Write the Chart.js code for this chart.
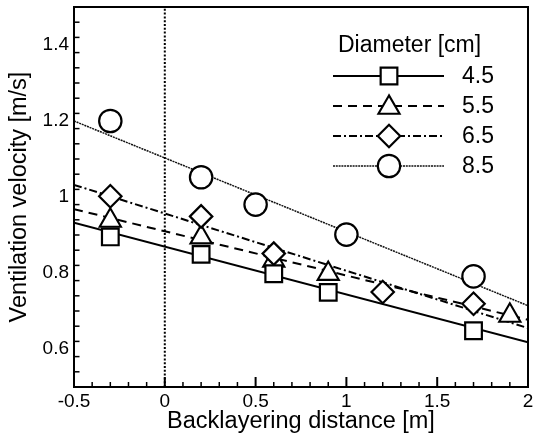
<!DOCTYPE html>
<html><head><meta charset="utf-8">
<script src="https://cdn.jsdelivr.net/npm/chart.js@4/dist/chart.umd.min.js"></script>
<style>html,body{margin:0;padding:0;background:#fff;overflow:hidden}#wrap{width:533px;height:441px}</style>
</head><body><div id="wrap"><canvas id="c" width="533" height="441"></canvas></div>
<script>
// ---- data ----
const diameters = ['4.5', '5.5', '6.5', '8.5'];
const x45 = [-0.3, 0.2, 0.6, 0.9, 1.7];
const v45 = [0.895, 0.849, 0.798, 0.749, 0.648];
const x55 = [-0.3, 0.2, 0.6, 0.9, 1.9];
const v55 = [0.945, 0.901, 0.840, 0.805, 0.695];
const x65 = [-0.3, 0.2, 0.6, 1.2, 1.7];
const v65 = [1.002, 0.949, 0.851, 0.750, 0.719];
const x85 = [-0.3, 0.2, 0.5, 1.0, 1.7];
const v85 = [1.200, 1.052, 0.980, 0.901, 0.791];
const fitX = [-0.5, 2];
const fit45 = [0.932, 0.618];
const fit55 = [0.968, 0.677];
const fit65 = [1.032, 0.655];
const fit85 = [1.200, 0.714];
const refLineX = [0, 0];
const refLineY = [0.5, 1.5];
const xTicks = [-0.5, 0, 0.5, 1, 1.5, 2];
const yTicks = [0.6, 0.8, 1, 1.2, 1.4];
const xTitle = 'Backlayering distance [m]';
const yTitle = 'Ventilation velocity [m/s]';
const legendTitle = 'Diameter [cm]';

const FONT = '"Liberation Sans", Arial, Helvetica, sans-serif';
const pts = (xs, ys) => xs.map((x, i) => ({x: x, y: ys[i]}));

// triangle centred on its bounding box (Chart.js' own triangle is centred on its circumcentre)
function drawTri(ctx, x, y) {
  ctx.save();
  ctx.fillStyle = '#fff'; ctx.strokeStyle = '#000'; ctx.lineWidth = 2.1; ctx.setLineDash([]);
  ctx.beginPath();
  ctx.moveTo(x, y - 9.6); ctx.lineTo(x - 10.6, y + 8.8); ctx.lineTo(x + 10.6, y + 8.8); ctx.closePath();
  ctx.fill(); ctx.stroke();
  ctx.restore();
}

const styles = [
  {shape: 'rect',     r: 11.8, dash: [],           lw: 2,   col: '#000', order: 0},
  {shape: 'triangle', r: 0,    dash: [9, 6],       lw: 2,   col: '#000', order: 2, custom: true},
  {shape: 'rectRot',  r: 11.2, dash: [8, 3, 2, 3], lw: 2,   col: '#000', order: 1},
  {shape: 'circle',   r: 11.2, dash: [2, 0.8],     lw: 1.5, col: '#111', order: 3}
];
const xsAll = [x45, x55, x65, x85];
const vsAll = [v45, v55, v65, v85];
const fitsAll = [fit45, fit55, fit65, fit85];

const datasets = [];
diameters.forEach((d, i) => {
  datasets.push({
    label: d, data: pts(xsAll[i], vsAll[i]), showLine: false,
    pointStyle: styles[i].shape, pointRadius: styles[i].r, pointHoverRadius: styles[i].r,
    pointBackgroundColor: '#fff', pointBorderColor: '#000', pointBorderWidth: 2.2,
    order: styles[i].order, customTri: !!styles[i].custom
  });
});
diameters.forEach((d, i) => {
  datasets.push({
    label: 'fit ' + d, data: pts(fitX, fitsAll[i]), showLine: true,
    borderColor: styles[i].col, borderWidth: styles[i].lw, borderDash: styles[i].dash,
    pointRadius: 0, fill: false, order: 10 + i
  });
});
datasets.push({
  label: 'x=0', data: pts(refLineX, refLineY), showLine: true,
  borderColor: '#000', borderWidth: 2, borderDash: [2, 1.8], pointRadius: 0, order: 20
});

const framePlugin = {
  id: 'frame',
  afterDatasetDraw(chart, args) {
    const ds = chart.data.datasets[args.index];
    if (!ds.customTri) return;
    args.meta.data.forEach(el => drawTri(chart.ctx, el.x, el.y));
  },
  afterDatasetsDraw(chart) {
    const ctx = chart.ctx, a = chart.chartArea;
    const xs = chart.scales.x, ys = chart.scales.y;
    ctx.save();
    ctx.strokeStyle = '#000';
    const tick = (px, isX, len, w) => {
      ctx.lineWidth = w; ctx.beginPath();
      if (isX) { ctx.moveTo(px, a.bottom); ctx.lineTo(px, a.bottom - len); }
      else { ctx.moveTo(a.left, px); ctx.lineTo(a.left + len, px); }
      ctx.stroke();
    };
    for (let k = 0; k <= 25; k++) {
      const v = -0.5 + k * 0.1;
      const major = k % 5 === 0;
      tick(xs.getPixelForValue(v), true, major ? 10 : 5, major ? 2 : 1.5);
    }
    for (let k = 0; k <= 25; k++) {
      const v = 0.5 + k * 0.04;
      const q = (v - 0.6) / 0.2;
      const major = Math.abs(q - Math.round(q)) < 1e-6;
      tick(ys.getPixelForValue(v), false, major ? 10 : 5.5, major ? 2 : 1.5);
    }
    ctx.lineWidth = 2;
    ctx.setLineDash([]);
    ctx.strokeRect(a.left, a.top, a.right - a.left, a.bottom - a.top);

    // legend
    ctx.fillStyle = '#000';
    ctx.font = '23px ' + FONT;
    ctx.textBaseline = 'alphabetic';
    ctx.textAlign = 'left';
    ctx.fillText(legendTitle, 338, 52);
    const rows = [76, 106, 136, 166];
    diameters.forEach((d, i) => {
      const s = styles[i], y = rows[i];
      ctx.strokeStyle = s.col; ctx.lineWidth = s.lw; ctx.setLineDash(s.dash);
      ctx.beginPath(); ctx.moveTo(333, y); ctx.lineTo(444, y); ctx.stroke();
      ctx.setLineDash([]);
      if (s.custom) {
        drawTri(ctx, 389, y - 1);
      } else {
        ctx.fillStyle = '#fff'; ctx.strokeStyle = '#000'; ctx.lineWidth = 2.2;
        Chart.helpers.drawPoint(ctx, {pointStyle: s.shape, radius: s.r, rotation: 0, borderWidth: 2.2}, 389, y);
      }
      ctx.fillStyle = '#000';
      ctx.textBaseline = 'middle';
      ctx.fillText(d, 462, y + 1);
    });
    ctx.restore();
  }
};

new Chart(document.getElementById('c'), {
  type: 'scatter',
  data: {datasets: datasets},
  plugins: [framePlugin],
  options: {
    responsive: false, animation: false, devicePixelRatio: 1,
    layout: {autoPadding: false, padding: {top: 7, right: 5, left: 0, bottom: 0}},
    plugins: {legend: {display: false}, tooltip: {enabled: false}},
    scales: {
      x: {
        type: 'linear', min: -0.5, max: 2,
        afterBuildTicks: s => { s.ticks = xTicks.map(v => ({value: v})); },
        afterFit: s => { s.height = 54; s.paddingLeft = 0; s.paddingRight = 0; },
        grid: {display: false, drawTicks: false},
        border: {display: false},
        ticks: {color: '#000', font: {family: FONT, size: 19}, padding: 3, maxRotation: 0, autoSkip: false,
                callback: v => String(v)},
        title: {display: true, text: xTitle, color: '#000', font: {family: FONT, size: 23.5}, padding: {top: 0, bottom: 5}}
      },
      y: {
        type: 'linear', min: 0.5, max: 1.5,
        afterBuildTicks: s => { s.ticks = yTicks.map(v => ({value: v})); },
        afterFit: s => { s.width = 74; s.paddingTop = 0; s.paddingBottom = 0; },
        grid: {display: false, drawTicks: false},
        border: {display: false},
        ticks: {color: '#000', font: {family: FONT, size: 19}, padding: 5, autoSkip: false,
                callback: v => String(v)},
        title: {display: true, text: yTitle, color: '#000', font: {family: FONT, size: 23.5}, padding: {top: 5, bottom: 0}}
      }
    }
  }
});
</script></body></html>
